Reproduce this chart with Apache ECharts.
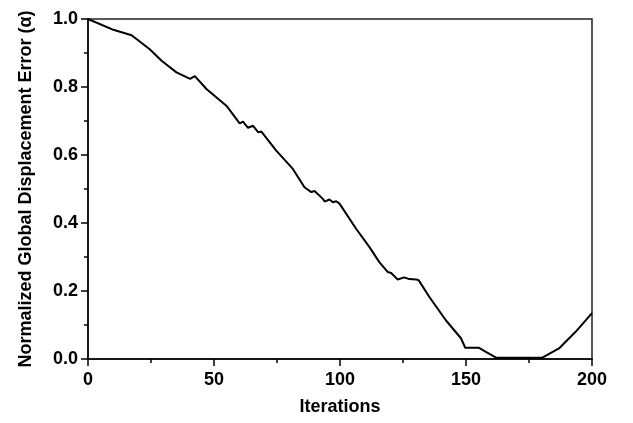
<!DOCTYPE html>
<html>
<head>
<meta charset="utf-8">
<script src="https://cdn.jsdelivr.net/npm/echarts@6/dist/echarts.min.js"></script>
<style>
  html, body { margin: 0; padding: 0; background: #fff; }
  #chart { width: 633px; height: 423px; }
</style>
</head>
<body>
<div id="chart"></div>
<script>
// values
const iterations = [0, 9.4, 17.3, 24.5, 29.2, 35.1, 35.8, 40.5, 42.4, 47, 54.9, 60.2, 61.5, 63.5, 65.5,
  67.5, 68.8, 74.7, 81.3, 85.9, 88.6, 89.9, 93.2, 93.9, 95.8, 97.2, 98.5, 99.8, 106.4, 111.7, 115.6,
  118.9, 120.3, 122.9, 125.5, 127.5, 130.2, 131.2, 135.4, 142, 148, 149.7, 155.2, 157.9, 161.9, 170,
  180.3, 186.9, 193.5, 200];
const errorValues = [1.0, 0.97, 0.952, 0.911, 0.877, 0.843, 0.838, 0.824, 0.832, 0.794, 0.745, 0.693, 0.698, 0.68, 0.686,
  0.667, 0.669, 0.613, 0.559, 0.505, 0.491, 0.494, 0.471, 0.463, 0.469, 0.461, 0.464, 0.457, 0.383, 0.329, 0.285,
  0.256, 0.253, 0.234, 0.24, 0.235, 0.234, 0.232, 0.183, 0.114, 0.061, 0.033, 0.033, 0.021, 0.004, 0.004,
  0.004, 0.031, 0.08, 0.135];
const xTicks = [0, 50, 100, 150, 200];
const yTicks = [0, 0.2, 0.4, 0.6, 0.8, 1.0];

const font = "'Liberation Sans', Arial, sans-serif";
const chart = echarts.init(document.getElementById("chart"));

chart.setOption({
  animation: false,
  grid: {
    left: 88, right: 41, top: 19, bottom: 64,
    show: true, borderColor: "#222", borderWidth: 1.5, backgroundColor: "#fff",
  },
  xAxis: {
    type: "value",
    min: xTicks[0],
    max: xTicks[xTicks.length - 1],
    interval: 50,
    name: "Iterations",
    nameLocation: "middle",
    nameGap: 39,
    nameTextStyle: { fontFamily: font, fontWeight: "bold", fontSize: 18, color: "#000" },
    axisLine: { lineStyle: { color: "#000", width: 1.5 } },
    axisTick: { inside: false, length: 7, lineStyle: { color: "#000", width: 1.5 } },
    minorTick: { show: true, splitNumber: 2, length: 4, lineStyle: { color: "#000", width: 1.5 } },
    axisLabel: { fontFamily: font, fontWeight: "bold", fontSize: 18, color: "#000", margin: 12 },
    splitLine: { show: false },
  },
  yAxis: {
    type: "value",
    min: yTicks[0],
    max: yTicks[yTicks.length - 1],
    interval: 0.2,
    name: "Normalized Global Displacement Error (α)",
    nameLocation: "middle",
    nameGap: 53,
    nameTextStyle: { fontFamily: font, fontWeight: "bold", fontSize: 18, color: "#000" },
    axisLine: { show: true, lineStyle: { color: "#000", width: 1.5 } },
    axisTick: { show: true, inside: false, length: 7, lineStyle: { color: "#000", width: 1.5 } },
    minorTick: { show: true, splitNumber: 2, length: 4, lineStyle: { color: "#000", width: 1.5 } },
    axisLabel: {
      fontFamily: font, fontWeight: "bold", fontSize: 18, color: "#000", margin: 10,
      formatter: (v) => v.toFixed(1),
    },
    splitLine: { show: false },
  },
  series: [{
    type: "line",
    data: iterations.map((it, i) => [it, errorValues[i]]),
    showSymbol: false,
    lineStyle: { color: "#000", width: 2 },
  }],
});
</script>
</body>
</html>
